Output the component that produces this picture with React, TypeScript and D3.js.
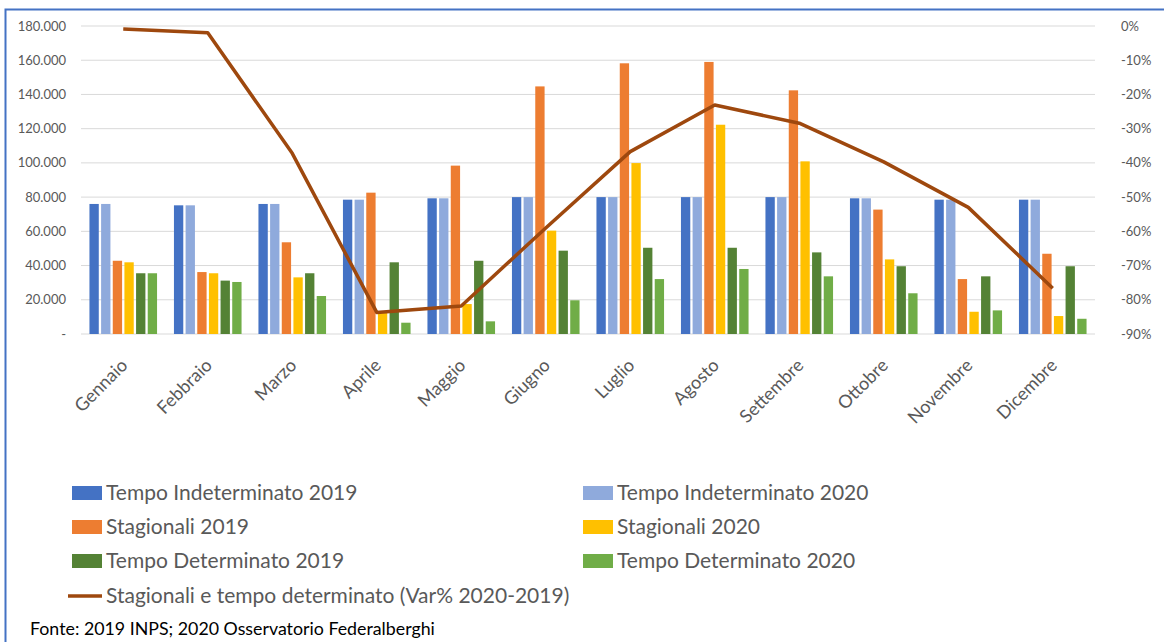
import React from "react";
import * as d3 from "d3";

const months = ["Gennaio","Febbraio","Marzo","Aprile","Maggio","Giugno","Luglio","Agosto","Settembre","Ottobre","Novembre","Dicembre"];
const tempoIndet2019 = [76000,75200,76000,78500,79300,80000,80000,80000,80000,79300,78500,78500];
const tempoIndet2020 = [76000,75200,76000,78500,79300,80000,80000,80000,80000,79300,78500,78500];
const stagionali2019 = [42800,36200,53600,82600,98400,144700,158200,159000,142400,72700,32100,46900];
const stagionali2020 = [41900,35500,33100,12500,17500,60400,99900,122300,100900,43600,13000,10500];
const tempoDet2019 = [35500,31200,35500,41900,42800,48700,50400,50400,47700,39600,33700,39600];
const tempoDet2020 = [35500,30400,22200,6600,7400,19700,32100,38000,33700,23800,13800,8900];
const varPct = [-0.9,-2.0,-37.2,-83.7,-81.8,-59,-36.7,-23.1,-28.4,-39.7,-53,-76.6];
const leftTicks = [0,20000,40000,60000,80000,100000,120000,140000,160000,180000];
const rightTicks = [0,-10,-20,-30,-40,-50,-60,-70,-80,-90];

const series = [
  { name: "Tempo Indeterminato 2019", values: tempoIndet2019, color: "#4472C4" },
  { name: "Tempo Indeterminato 2020", values: tempoIndet2020, color: "#8FAADC" },
  { name: "Stagionali 2019", values: stagionali2019, color: "#ED7D31" },
  { name: "Stagionali 2020", values: stagionali2020, color: "#FFC000" },
  { name: "Tempo Determinato 2019", values: tempoDet2019, color: "#548235" },
  { name: "Tempo Determinato 2020", values: tempoDet2020, color: "#70AD47" },
];
const lineName = "Stagionali e tempo determinato (Var% 2020-2019)";
const lineColor = "#9E480E";

export default function App() {
  const W = 1164, H = 642;
  const left = 81, right = 1095, top = 26, bottom = 334;
  const x0 = d3.scaleBand<string>().domain(months).range([left, right]).paddingInner(0.2).paddingOuter(0.1);
  const x1 = d3.scaleBand<number>().domain(d3.range(series.length)).range([0, x0.bandwidth()]).paddingInner(0.2);
  const y = d3.scaleLinear().domain([0, 180000]).range([bottom, top]);
  const y2 = d3.scaleLinear().domain([-90, 0]).range([bottom, top]);
  const fmt = (v: number) => (v === 0 ? "-" : d3.format(",")(v).replace(/,/g, "."));
  const cx = (m: string) => (x0(m) as number) + x0.bandwidth() / 2;
  const line = d3.line<number>().x((_, i) => cx(months[i])).y((v) => y2(v));
  const font = "Lato, 'Open Sans', sans-serif";
  const legendRows = [493, 527, 561];
  return (
    <svg width={W} height={H} style={{ position: "absolute", left: 0, top: 0, background: "#fff" }} fontFamily={font}>
      <rect x={0} y={0} width={W} height={H} fill="#fff" />
      <path d={`M5.5,${H + 5} V9.5 H${W + 5}`} fill="none" stroke="#4472C4" strokeWidth={2} />
      {leftTicks.map((t) => (
        <g key={t}>
          <line x1={left} x2={right} y1={y(t)} y2={y(t)} stroke="#D9D9D9" strokeWidth={1} />
          <text x={66} y={y(t)} dy="0.35em" textAnchor="end" fontSize={13} fill="#595959">{fmt(t)}</text>
        </g>
      ))}
      {rightTicks.map((t) => (
        <text key={t} x={1121} y={y2(t)} dy="0.35em" textAnchor="start" fontSize={13} fill="#595959">{t}%</text>
      ))}
      {months.map((m, mi) => (
        <g key={m} transform={`translate(${x0(m)},0)`}>
          {series.map((s, si) => (
            <rect key={si} x={x1(si)} y={y(s.values[mi])} width={x1.bandwidth()} height={bottom - y(s.values[mi])} fill={s.color} />
          ))}
        </g>
      ))}
      <path d={line(varPct) || ""} fill="none" stroke={lineColor} strokeWidth={3.5} strokeLinejoin="round" />
      {months.map((m) => (
        <text key={m} transform={`translate(${cx(m) + 1},${362}) rotate(-45)`} textAnchor="end" dy="0.35em" fontSize={18} fill="#595959">{m}</text>
      ))}
      {series.map((s, i) => {
        const col = i % 2;
        const row = Math.floor(i / 2);
        const sx = col === 0 ? 72 : 583;
        const yy = legendRows[row];
        return (
          <g key={s.name}>
            <rect x={sx} y={yy - 7} width={30} height={14} fill={s.color} />
            <text x={sx + 34} y={yy} dy="0.35em" fontSize={21} fill="#595959">{s.name}</text>
          </g>
        );
      })}
      <line x1={68} x2={102} y1={596} y2={596} stroke={lineColor} strokeWidth={3.5} />
      <text x={106} y={596} dy="0.35em" fontSize={21} fill="#595959">{lineName}</text>
      <text x={30} y={635} fontSize={17.8} fill="#000">Fonte: 2019 INPS; 2020 Osservatorio Federalberghi</text>
    </svg>
  );
}
